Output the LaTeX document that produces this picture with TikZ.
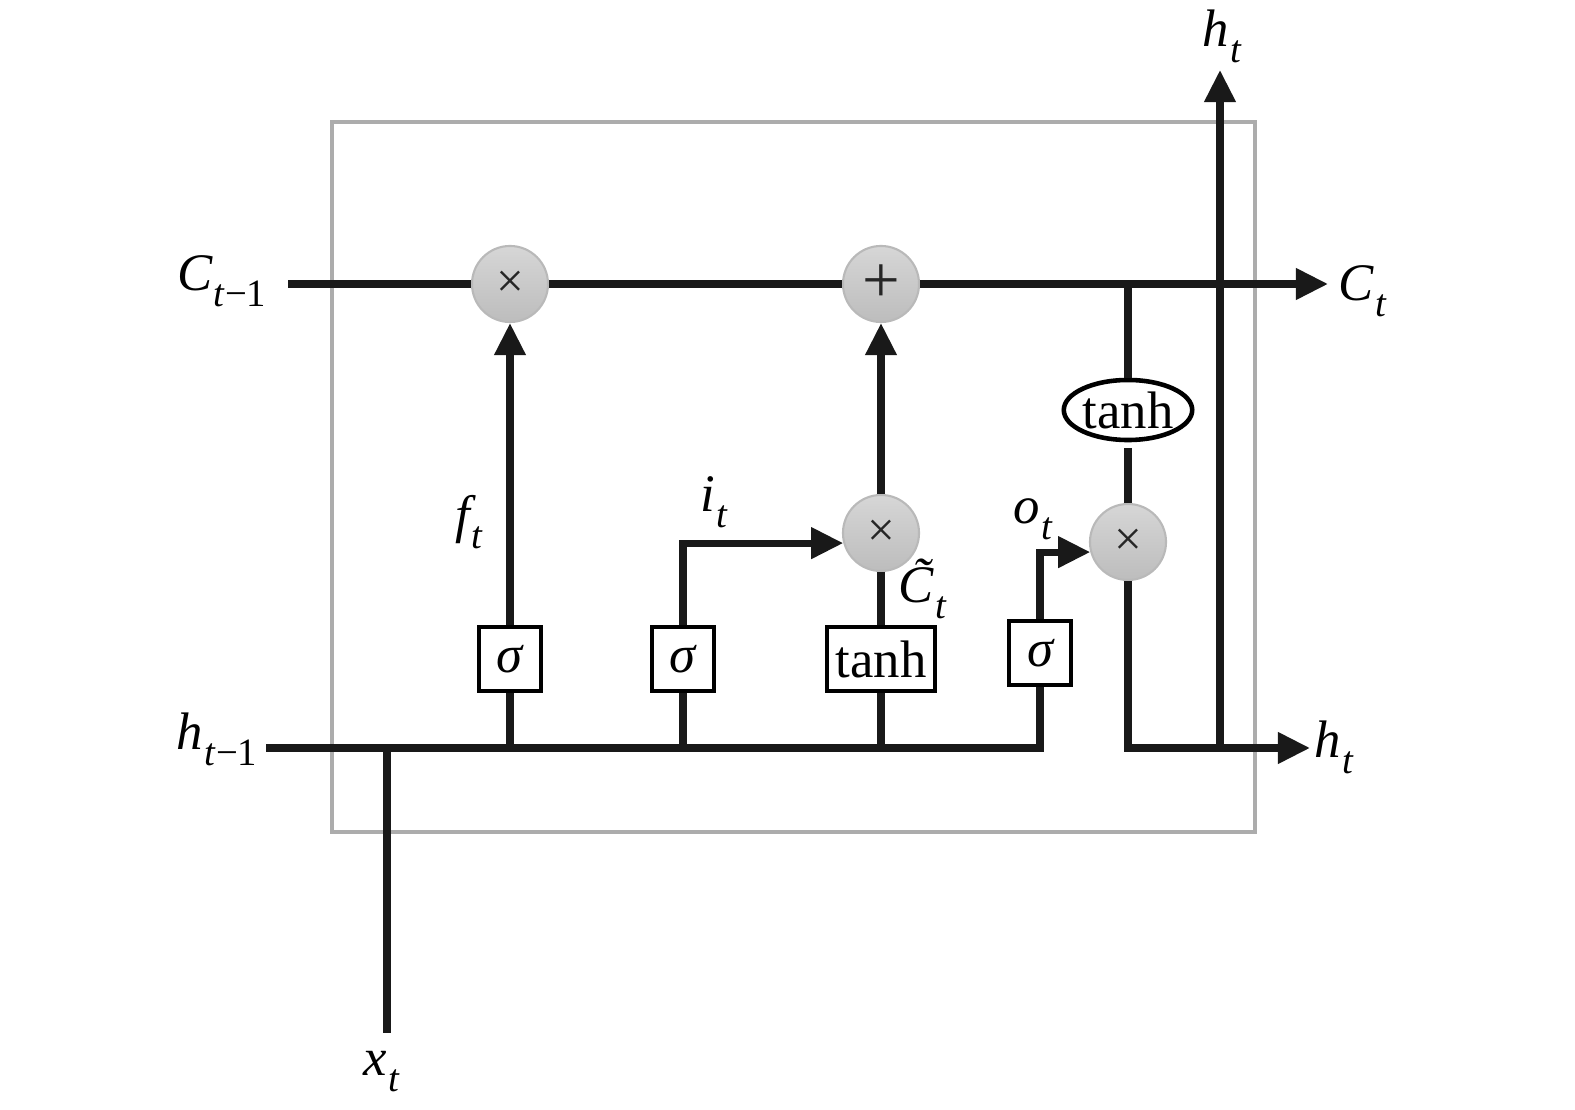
\documentclass[tikz,border=0pt]{standalone}
\usepackage{fontspec}
\setmainfont{Liberation Serif}
\usetikzlibrary{arrows.meta,shapes.geometric,calc}
\newcommand\vsub[2]{{\itshape #1}\kern0.4pt\raisebox{-0.3em}{\fontsize{11}{11}\selectfont #2}}
\begin{document}
\begin{tikzpicture}[x=0.01cm,y=-0.01cm,
  conn/.style={line width=2pt, black!90},
  arr/.style={conn,-{Triangle[length=0.32cm,width=0.3cm]}},
  gate/.style={draw, line width=1.3pt, fill=white, minimum height=0.64cm, inner sep=1pt, font=\fontsize{15}{15}\selectfont},
  op/.style={circle, top color=gray!32, bottom color=gray!52, draw=gray!55, line width=0.6pt, minimum size=0.76cm, inner sep=0pt, text=black!85, font=\fontsize{14}{14}\selectfont},
  lab/.style={font=\fontsize{15}{15}\selectfont, inner sep=0pt}]
\useasboundingbox (0,0) rectangle (1575,1110);
\draw[draw=gray!65, line width=1pt] (332,122) rectangle (1255,832);
% operation circles
\node[op] (m1) at (510,284) {×};
\node[op, font=\fontsize{19}{19}\selectfont] (add) at (881,284) {+};
\node[op] (m2) at (881,533) {×};
\node[op] (m3) at (1128,542) {×};
% gates
\node[gate, minimum width=0.62cm] (sf) at (510,659) {\itshape σ};
\node[gate, minimum width=0.62cm] (si) at (683,659) {\itshape σ};
\node[gate, minimum width=1.08cm] (tc) at (881,659) {tanh};
\node[gate, minimum width=0.62cm] (so) at (1040,653) {\itshape σ};
\node[ellipse, draw, line width=1.3pt, fill=white, minimum width=1.22cm, minimum height=0.6cm, inner sep=0pt,
      font=\fontsize{15}{15}\selectfont] (te) at (1128,410) {tanh};
% free ends
\coordinate (cin) at (288,284);
\coordinate (cout) at (1328,284);
\coordinate (hin) at (266,748);
\coordinate (hout) at (1310,748);
\coordinate (htop) at (1220,70);
\coordinate (hjoin) at (1220,748);
\coordinate (xb) at (387,1033);
% cell state line
\draw[conn] (cin) -- (m1);
\draw[conn] (m1) -- (add);
\draw[arr] (add) -- (cout);
\draw[conn] (te.north |- cin) -- (te.north);
\draw[conn, shorten <=0.06cm] (te) -- (m3);
% hidden input line
\draw[conn] (hin) -- (so.south |- hin) -- (so.south);
\draw[conn] (sf.south) -- (sf.south |- hin);
\draw[conn] (si.south) -- (si.south |- hin);
\draw[conn] (tc.south) -- (tc.south |- hin);
\draw[conn] (xb) -- (xb |- hin);
% gates to operations
\draw[arr] (sf) -- (m1);
\draw[arr] (si.north) |- (m2.195);
\draw[conn] (tc) -- (m2);
\draw[arr] (m2) -- (add);
\draw[arr] (so.north) |- (m3.195);
% output
\draw[arr] (m3) |- (hout);
\draw[arr] (hjoin) -- (htop);
% labels
\node[lab, anchor=base east] (lcin) at (267,291) {\vsub{C}{\textit{t}−1}};
\node[lab, anchor=base west] (lcout) at (1338,301) {\vsub{C}{\textit{t}}};
\node[lab, anchor=base east] (lhin) at (258,750) {\vsub{h}{\textit{t}−1}};
\node[lab, anchor=base west] (lhout) at (1314,758) {\vsub{h}{\textit{t}}};
\node[lab, anchor=base west] (lhtop) at (1202,47) {\vsub{h}{\textit{t}}};
\node[lab, anchor=base west] (lx) at (363,1076) {\vsub{x}{\textit{t}}};
\node[lab, anchor=base west] (lf) at (455,533) {\vsub{f}{\textit{t}}};
\node[lab, anchor=base west] (li) at (700,512) {\vsub{i}{\textit{t}}};
\node[lab, anchor=base west] (lo) at (1013,524) {\vsub{o}{\textit{t}}};
\node[lab, anchor=base west] (lct) at (898,603) {\vsub{\~{C}}{\textit{t}}};
\end{tikzpicture}
\end{document}
